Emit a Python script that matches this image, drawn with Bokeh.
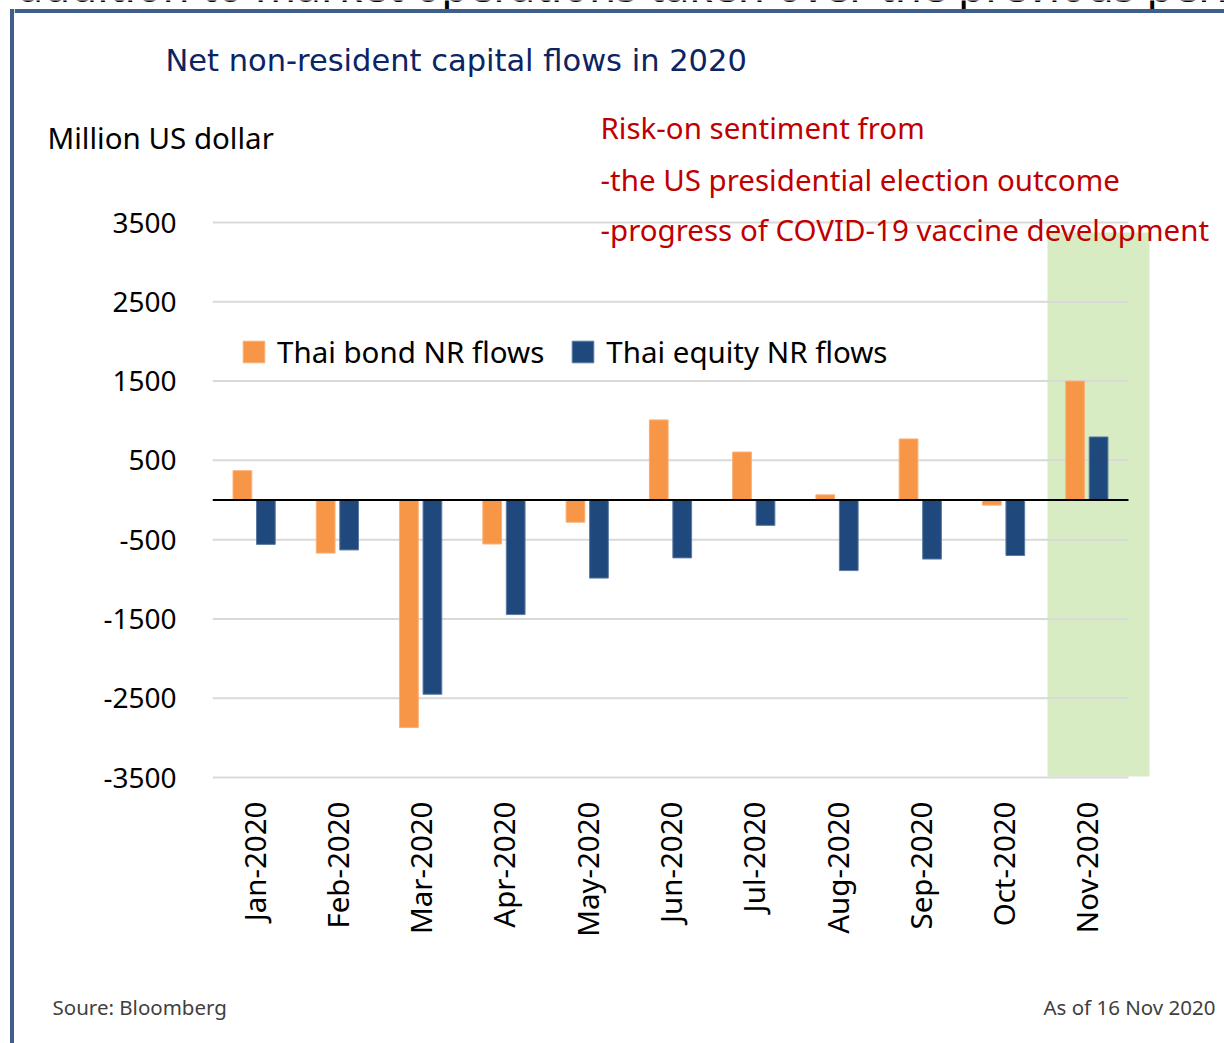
import math
from bokeh.plotting import figure
from bokeh.models import Range1d, FixedTicker, Label, Legend, LegendItem
from bokeh.layouts import row, column
from bokeh.embed import file_html
from bokeh.resources import INLINE
from bokeh.core.properties import value

# ---------------- data ----------------
months = ["Jan-2020", "Feb-2020", "Mar-2020", "Apr-2020", "May-2020", "Jun-2020",
          "Jul-2020", "Aug-2020", "Sep-2020", "Oct-2020", "Nov-2020"]
bond_flows = [370, -670, -2870, -555, -280, 1010, 605, 65, 770, -65, 1500]
equity_flows = [-560, -630, -2450, -1445, -985, -730, -320, -890, -745, -700, 795]
y_ticks = [-3500, -2500, -1500, -500, 500, 1500, 2500, 3500]
y_tick_labels = ["-3500", "-2500", "-1500", "-500", "500", "1500", "2500", "3500"]
series_names = ["Thai bond NR flows", "Thai equity NR flows"]
note_lines = ["Risk-on sentiment from",
              "-the US presidential election outcome",
              "-progress of COVID-19 vaccine development"]
title_text = "Net non-resident capital flows in 2020"
unit_text = "Million US dollar"
source_text = "Soure: Bloomberg"
asof_text = "As of 16 Nov 2020"
slide_text = "addition to market operations taken over the previous period"

ORANGE = "#F79646"
BLUE = "#1F497D"
GREEN = "#D8ECC4"
FRAME_BLUE = "#3E5F8A"
FONT = "Noto Sans"

PAGE_W, PAGE_H = 1224, 1043
STRIP_W = 14          # left strip holding the vertical border line
HEAD_H = 200          # header band (title, unit, notes)
MAIN_H = 760          # main chart
FOOT_H = PAGE_H - HEAD_H - MAIN_H

# ---------------- main chart geometry (page pixel -> data) ----------------
CAT_PX = 83.27
PX_PER_UNIT = 555 / 7000.0


def xd(px):
    return (px - 212) / CAT_PX


def yd(py):
    return 3500 - (py - 222) / PX_PER_UNIT


def no_align(f):
    if "frame_align" in f.properties():
        f.frame_align = False
    return f


def blank_fig(w, h, x0, x1, y0, y1):
    f = figure(width=w, height=h, output_backend="svg", toolbar_location=None,
               x_range=Range1d(x0, x1), y_range=Range1d(y0, y1),
               x_axis_type=None, y_axis_type=None, min_border=0, title=None)
    f.outline_line_color = None
    f.xgrid.visible = False
    f.ygrid.visible = False
    f.background_fill_color = "white"
    f.border_fill_color = "white"
    return no_align(f)


# ---------------- left strip (border line) ----------------
strip = blank_fig(STRIP_W, PAGE_H, 0, STRIP_W, PAGE_H, 0)
strip.quad(left=[9.5], right=[13.5], top=[8.5], bottom=[PAGE_H],
           fill_color=FRAME_BLUE, line_color=None)

# ---------------- header ----------------
head = blank_fig(PAGE_W - STRIP_W, HEAD_H, STRIP_W, PAGE_W, HEAD_H, 0)
# bottom edge of the slide sentence that is cut off above the chart box
head.text(x=[18], y=[-16], text=[slide_text], text_font=value(FONT),
          text_font_size="44px", text_color="black", text_align="left",
          text_baseline="alphabetic")
head.quad(left=[STRIP_W], right=[PAGE_W], top=[8.5], bottom=[12.5],
          fill_color=FRAME_BLUE, line_color=None)


def put(fig, text, x, y, size, color, align="left", font=FONT):
    fig.add_layout(Label(x=x, y=y, text=text, text_font=font, text_font_size=size,
                         text_color=color, text_align=align, text_baseline="middle"))


put(head, title_text, 165, 60, "30.5px", "#0B2463", font="DejaVu Sans")
put(head, unit_text, 47, 137, "29.5px", "black")
put(head, note_lines[0], 600, 127, "29.5px", "#C00000")
put(head, note_lines[1], 600, 179, "29.5px", "#C00000")

# ---------------- main chart ----------------
FRAME_TOP, FRAME_BOT = HEAD_H, 785
p = figure(width=PAGE_W - STRIP_W, height=MAIN_H, output_backend="svg",
           toolbar_location=None, title=None,
           x_range=Range1d(0, xd(PAGE_W)), y_range=Range1d(yd(FRAME_BOT), yd(FRAME_TOP)),
           min_border_left=212 - STRIP_W, min_border_right=0, min_border_top=0,
           min_border_bottom=HEAD_H + MAIN_H - FRAME_BOT)
no_align(p)
p.outline_line_color = None
p.background_fill_color = "white"
p.border_fill_color = "white"
p.xgrid.visible = False
p.ygrid.visible = False

n = len(months)
centers = [i + 0.5 for i in range(n)]

# highlight box for Nov-2020
p.quad(left=[xd(1047)], right=[xd(1149)], bottom=[yd(776)], top=[yd(232)],
       fill_color=GREEN, line_color=None)

# gridlines
p.segment(x0=[0] * len(y_ticks), x1=[n] * len(y_ticks), y0=y_ticks, y1=y_ticks,
          line_color="#D9D9D9", line_width=2)

off, bw = 0.141, 0.225
r_bond = p.vbar(x=[c - off for c in centers], top=bond_flows, bottom=0, width=bw,
                fill_color=ORANGE, line_color="#F9B07A", line_width=1)
r_eq = p.vbar(x=[c + off for c in centers], top=equity_flows, bottom=0, width=bw,
              fill_color=BLUE, line_color="#5B7AA3", line_width=1)

# zero line
p.segment(x0=[0], x1=[n], y0=[0], y1=[0], line_color="black", line_width=2)

# axes
p.yaxis.ticker = FixedTicker(ticks=y_ticks)
p.yaxis.major_label_overrides = dict(zip(y_ticks, y_tick_labels))
p.yaxis.axis_line_color = None
p.yaxis.major_tick_line_color = None
p.yaxis.minor_tick_line_color = None
p.yaxis.major_tick_out = 0
p.yaxis.major_tick_in = 0
p.yaxis.major_label_standoff = 36
p.yaxis.major_label_text_font = FONT
p.yaxis.major_label_text_font_size = "28px"
p.yaxis.major_label_text_color = "black"

p.xaxis.ticker = FixedTicker(ticks=centers)
p.xaxis.major_label_overrides = dict(zip(centers, months))
p.xaxis.major_label_orientation = math.pi / 2
p.xaxis.axis_line_color = None
p.xaxis.major_tick_line_color = None
p.xaxis.minor_tick_line_color = None
p.xaxis.major_tick_out = 0
p.xaxis.major_tick_in = 0
p.xaxis.major_label_standoff = 16
p.xaxis.major_label_text_font = FONT
p.xaxis.major_label_text_font_size = "29.5px"
p.xaxis.major_label_text_color = "black"

# legend
legend = Legend(items=[LegendItem(label=series_names[0], renderers=[r_bond]),
                       LegendItem(label=series_names[1], renderers=[r_eq])],
                orientation="horizontal", location=(28, 413),
                glyph_width=27, glyph_height=27, label_standoff=10, spacing=25,
                padding=0, margin=0, border_line_color=None,
                background_fill_alpha=0, label_text_font=FONT,
                label_text_font_size="29.5px", label_text_color="black")
p.add_layout(legend, "center")

# third note line overlaps the plot area
p.add_layout(Label(x=xd(600), y=yd(229), text=note_lines[2], text_font=FONT,
                   text_font_size="29.5px", text_color="#C00000", text_align="left",
                   text_baseline="middle"))

# ---------------- footer ----------------
foot = blank_fig(PAGE_W - STRIP_W, FOOT_H, STRIP_W, PAGE_W, PAGE_H, HEAD_H + MAIN_H)
put(foot, source_text, 52, 1006, "20.5px", "#404040")
put(foot, asof_text, 1215, 1006, "20.5px", "#404040", align="right")

layout = row(strip, column(head, p, foot, spacing=0), spacing=0)
open("out.html", "w").write(file_html(layout, INLINE))
